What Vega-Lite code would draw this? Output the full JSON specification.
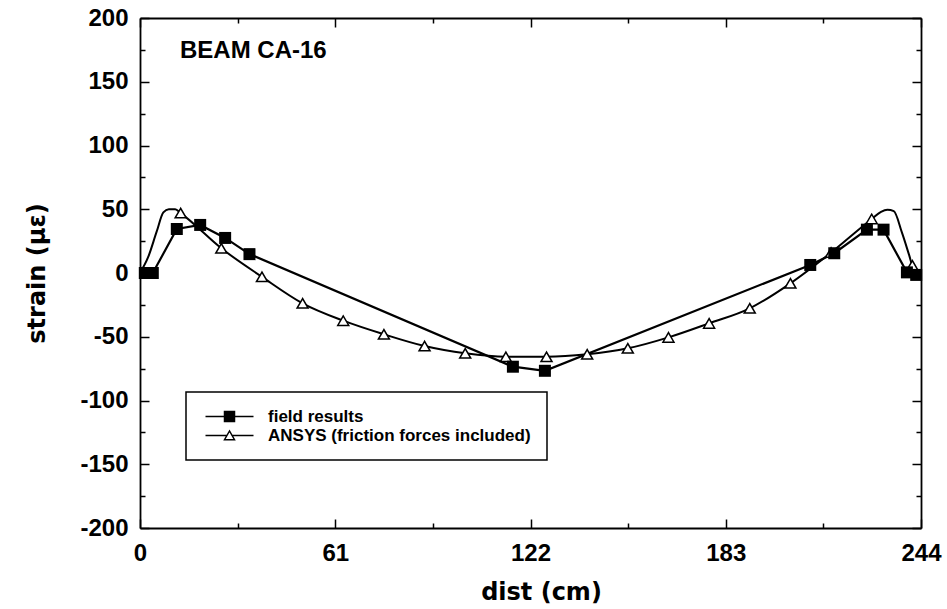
{
  "$schema": "https://vega.github.io/schema/vega-lite/v6.json",
  "width": 781,
  "height": 510,
  "autosize": {"type": "none"},
  "padding": {"left": 140, "top": 18, "right": 26, "bottom": 81},
  "background": "white",
  "config": {"view": {"stroke": null}},
  "title": {
    "text": "BEAM CA-16",
    "anchor": "start",
    "frame": "group",
    "orient": "top",
    "offset": -37.7,
    "dx": 40,
    "dy": 38,
    "baseline": "alphabetic",
    "font": "Liberation Sans",
    "fontSize": 24,
    "fontWeight": "bold",
    "color": "black"
  },
  "data": {
    "values": [
      {"series": "field results", "x": 1.5, "y": 0, "marker": true},
      {"series": "field results", "x": 4, "y": 0, "marker": true},
      {"series": "field results", "x": 11.5, "y": 34.5, "marker": true},
      {"series": "field results", "x": 18.8, "y": 37.7, "marker": true},
      {"series": "field results", "x": 26.6, "y": 27.5, "marker": true},
      {"series": "field results", "x": 34.2, "y": 14.8, "marker": true},
      {"series": "field results", "x": 116.5, "y": -73.5, "marker": true},
      {"series": "field results", "x": 126.5, "y": -76.7, "marker": true},
      {"series": "field results", "x": 209.4, "y": 6.3, "marker": true},
      {"series": "field results", "x": 216.9, "y": 15.5, "marker": true},
      {"series": "field results", "x": 227.1, "y": 34, "marker": true},
      {"series": "field results", "x": 232.3, "y": 34, "marker": true},
      {"series": "field results", "x": 239.6, "y": 0.5, "marker": true},
      {"series": "field results", "x": 242.5, "y": -1.5, "marker": true},
      {"series": "ANSYS (friction forces included)", "x": 0, "y": 0, "marker": false},
      {"series": "ANSYS (friction forces included)", "x": 2.6, "y": 12.8, "marker": false},
      {"series": "ANSYS (friction forces included)", "x": 5.2, "y": 32.4, "marker": false},
      {"series": "ANSYS (friction forces included)", "x": 7.3, "y": 47.5, "marker": false},
      {"series": "ANSYS (friction forces included)", "x": 9, "y": 50, "marker": false},
      {"series": "ANSYS (friction forces included)", "x": 11, "y": 50, "marker": false},
      {"series": "ANSYS (friction forces included)", "x": 12.7, "y": 47, "marker": true},
      {"series": "ANSYS (friction forces included)", "x": 25.4, "y": 19.4, "marker": true},
      {"series": "ANSYS (friction forces included)", "x": 38.1, "y": -3, "marker": true},
      {"series": "ANSYS (friction forces included)", "x": 50.8, "y": -23.8, "marker": true},
      {"series": "ANSYS (friction forces included)", "x": 63.5, "y": -37.4, "marker": true},
      {"series": "ANSYS (friction forces included)", "x": 76.2, "y": -48.1, "marker": true},
      {"series": "ANSYS (friction forces included)", "x": 88.9, "y": -57.3, "marker": true},
      {"series": "ANSYS (friction forces included)", "x": 101.6, "y": -63, "marker": true},
      {"series": "ANSYS (friction forces included)", "x": 114.3, "y": -65.7, "marker": true},
      {"series": "ANSYS (friction forces included)", "x": 127, "y": -65.7, "marker": true},
      {"series": "ANSYS (friction forces included)", "x": 139.7, "y": -63.8, "marker": true},
      {"series": "ANSYS (friction forces included)", "x": 152.4, "y": -59.1, "marker": true},
      {"series": "ANSYS (friction forces included)", "x": 165.1, "y": -50.5, "marker": true},
      {"series": "ANSYS (friction forces included)", "x": 177.8, "y": -39.5, "marker": true},
      {"series": "ANSYS (friction forces included)", "x": 190.5, "y": -27.7, "marker": true},
      {"series": "ANSYS (friction forces included)", "x": 203.2, "y": -8.1, "marker": true},
      {"series": "ANSYS (friction forces included)", "x": 215.9, "y": 16, "marker": true},
      {"series": "ANSYS (friction forces included)", "x": 228.6, "y": 42.4, "marker": true},
      {"series": "ANSYS (friction forces included)", "x": 231.5, "y": 48, "marker": false},
      {"series": "ANSYS (friction forces included)", "x": 233.5, "y": 49.6, "marker": false},
      {"series": "ANSYS (friction forces included)", "x": 235.5, "y": 48.5, "marker": false},
      {"series": "ANSYS (friction forces included)", "x": 238, "y": 32, "marker": false},
      {"series": "ANSYS (friction forces included)", "x": 240.3, "y": 14, "marker": false},
      {"series": "ANSYS (friction forces included)", "x": 241.3, "y": 6, "marker": true},
      {"series": "ANSYS (friction forces included)", "x": 244, "y": 0, "marker": false}
    ]
  },
  "resolve": {"axis": {"x": "independent", "y": "independent"}},
  "layer": [
    {
      "transform": [{"filter": "datum.series === 'ANSYS (friction forces included)'"}],
      "mark": {"type": "line", "interpolate": "monotone", "strokeWidth": 2, "color": "black"},
      "encoding": {
        "x": {
          "field": "x", "type": "quantitative",
          "scale": {"domain": [0, 244], "nice": false, "zero": false},
          "axis": {
            "orient": "bottom",
            "values": [0, 30.5, 61, 91.5, 122, 152.5, 183, 213.5, 244],
            "labelExpr": "datum.value % 61 === 0 ? '' + datum.value : ''",
            "tickSize": {"condition": {"test": "datum.value % 61 === 0", "value": -9}, "value": -5},
            "tickWidth": 1.5, "tickColor": "black",
            "domainWidth": 1.8, "domainColor": "black",
            "grid": false,
            "labelFont": "Liberation Sans", "labelFontSize": 24, "labelFontWeight": "bold", "labelColor": "black",
            "labelPadding": 22, "labelFlush": false, "labelOverlap": false,
            "title": "dist (cm)",
            "titleFont": "DejaVu Sans", "titleFontSize": 24, "titleFontWeight": "bold", "titleColor": "black",
            "titlePadding": 11, "titleX": 401
          }
        },
        "y": {
          "field": "y", "type": "quantitative",
          "scale": {"domain": [-200, 200], "nice": false, "zero": false},
          "axis": {
            "orient": "left",
            "values": [-200, -175, -150, -125, -100, -75, -50, -25, 0, 25, 50, 75, 100, 125, 150, 175, 200],
            "labelExpr": "datum.value % 50 === 0 ? '' + datum.value : ''",
            "tickSize": {"condition": {"test": "datum.value % 50 === 0", "value": -9}, "value": -5},
            "tickWidth": 1.5, "tickColor": "black",
            "domainWidth": 1.8, "domainColor": "black",
            "grid": false,
            "labelFont": "Liberation Sans", "labelFontSize": 24, "labelFontWeight": "bold", "labelColor": "black",
            "labelPadding": 21, "labelFlush": false, "labelOverlap": false,
            "title": "strain (με)",
            "titleFont": "DejaVu Sans", "titleFontSize": 24, "titleFontWeight": "bold", "titleColor": "black",
            "titlePadding": 30
          }
        },
        "color": {
          "field": "series", "type": "nominal",
          "scale": {"domain": ["field results", "ANSYS (friction forces included)"], "range": ["black", "black"]},
          "legend": {
            "orient": "none", "legendX": 46, "legendY": 374,
            "title": null,
            "fillColor": "white", "strokeColor": "black",
            "padding": 16, "rowPadding": 1,
            "symbolSize": 100, "symbolStrokeWidth": 1.5,
            "labelFont": "Liberation Sans", "labelFontSize": 17, "labelFontWeight": "bold", "labelColor": "black",
            "labelOffset": 49, "labelLimit": 400,
            "encode": {
              "legend": {"update": {"strokeWidth": {"value": 1.5}}},
              "symbols": {"update": {
                "shape": {"signal": "datum.value === 'field results' ? 'M-1,0H8.6M2.8,-1H4.8V1H2.8Z' : 'M-1,0H3.29M4.31,0H8.6M3.8,-0.9L2.8,0.85L4.8,0.85Z'"},
                "fill": {"signal": "datum.value === 'field results' ? 'black' : 'white'"},
                "stroke": {"value": "black"},
                "strokeWidth": {"value": 1.5},
                "opacity": {"value": 1}
              }}
            }
          }
        }
      }
    },
    {
      "transform": [{"filter": "datum.series === 'field results'"}],
      "mark": {"type": "line", "strokeWidth": 2.2, "color": "black"},
      "encoding": {
        "x": {
          "field": "x", "type": "quantitative",
          "axis": {
            "orient": "top",
            "values": [0, 30.5, 61, 91.5, 122, 152.5, 183, 213.5, 244],
            "labels": false,
            "tickSize": {"condition": {"test": "datum.value % 61 === 0", "value": -9}, "value": -5},
            "tickWidth": 1.5, "tickColor": "black",
            "domainWidth": 1.8, "domainColor": "black",
            "grid": false, "title": null
          }
        },
        "y": {
          "field": "y", "type": "quantitative",
          "axis": {
            "orient": "right",
            "values": [-200, -175, -150, -125, -100, -75, -50, -25, 0, 25, 50, 75, 100, 125, 150, 175, 200],
            "labels": false,
            "tickSize": {"condition": {"test": "datum.value % 50 === 0", "value": -9}, "value": -5},
            "tickWidth": 1.5, "tickColor": "black",
            "domainWidth": 1.8, "domainColor": "black",
            "grid": false, "title": null
          }
        },
        "color": {"field": "series", "type": "nominal"}
      }
    },
    {
      "transform": [{"filter": "datum.series === 'ANSYS (friction forces included)' && datum.marker"}],
      "mark": {"type": "point", "shape": "triangle-up", "filled": true, "fill": "white", "stroke": "black", "strokeWidth": 1.5, "size": 121, "opacity": 1},
      "encoding": {
        "x": {"field": "x", "type": "quantitative", "axis": null},
        "y": {"field": "y", "type": "quantitative", "axis": null}
      }
    },
    {
      "transform": [{"filter": "datum.series === 'field results'"}],
      "mark": {"type": "point", "shape": "square", "filled": true, "fill": "black", "stroke": null, "size": 144, "opacity": 1},
      "encoding": {
        "x": {"field": "x", "type": "quantitative", "axis": null},
        "y": {"field": "y", "type": "quantitative", "axis": null}
      }
    }
  ]
}
